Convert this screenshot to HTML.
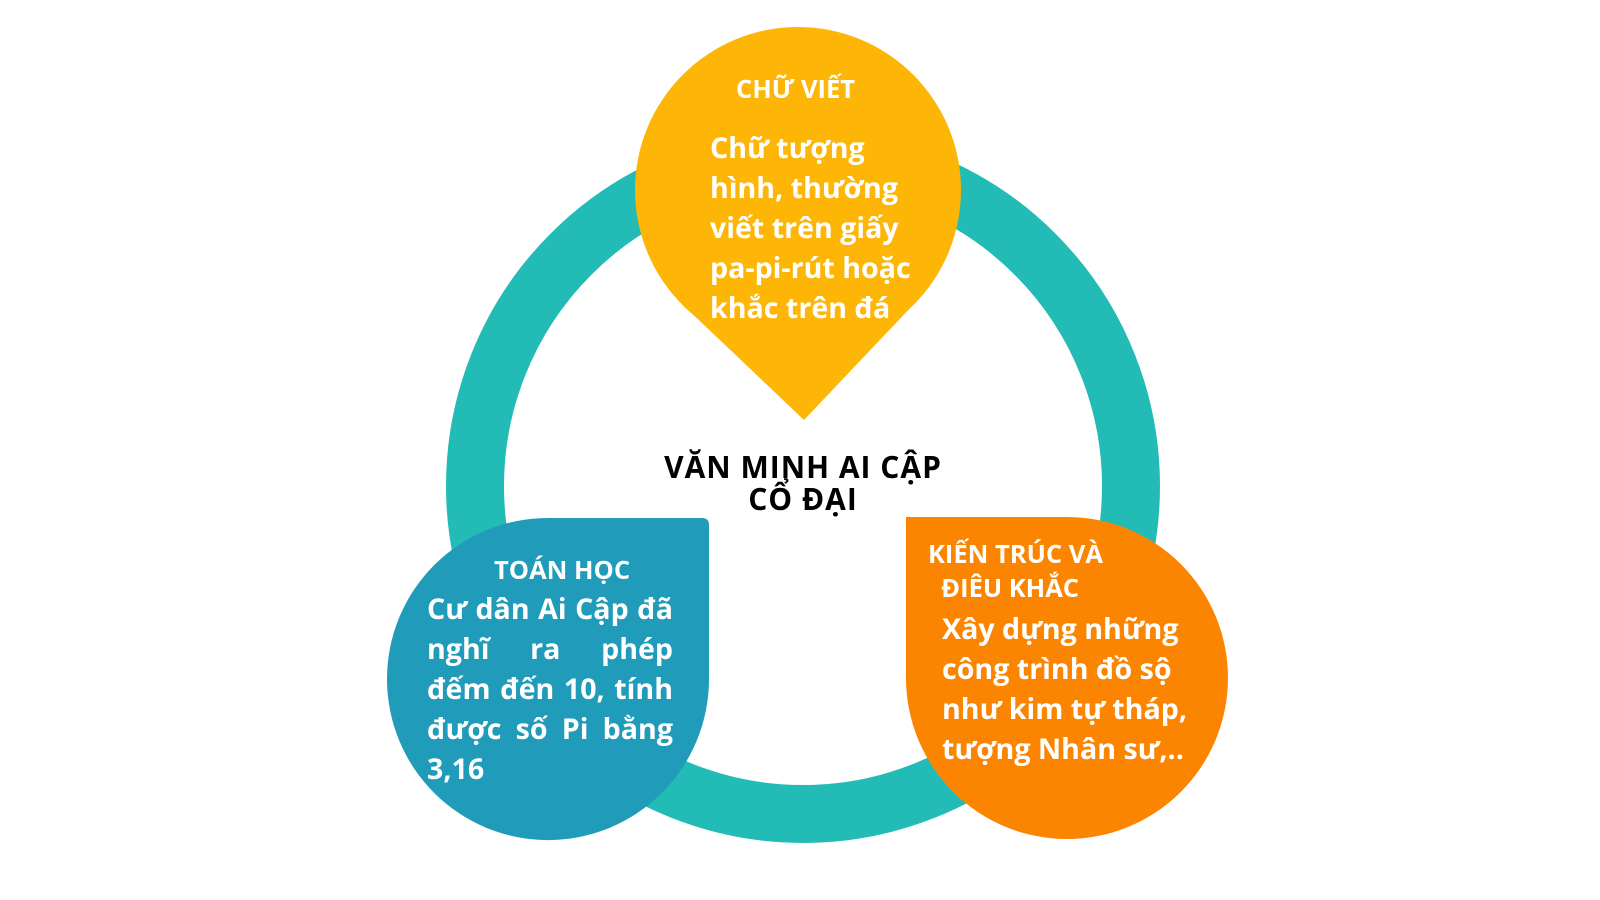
<!DOCTYPE html>
<html><head><meta charset="utf-8"><style>
body{margin:0;width:1600px;height:900px;background:#fff;position:relative;overflow:hidden;font-family:"Open Sans","Liberation Sans","DejaVu Sans",sans-serif;font-weight:bold}
.t{position:absolute;color:#fff;white-space:nowrap}
.b{font-size:28.6px;line-height:40px}
.h{font-size:25.5px;line-height:34px}
.j{text-align:justify;text-align-last:justify;height:40px}
</style></head><body>
<svg width="1600" height="900" style="position:absolute;left:0;top:0">
<circle cx="803" cy="486" r="328" fill="none" stroke="#22BBB6" stroke-width="58"/>
<circle cx="798" cy="190" r="163" fill="#FDB605"/>
<polygon points="683,305 804,420 913,305 798,190" fill="#FDB605"/>
<path d="M387,679 A161,161 0 1 0 709,679 L709,525 Q709,518 702,518 L548,518 A161,161 0 0 0 387,679 Z" fill="#219BBA"/>
<path d="M906,517 L1067,517 A161,161 0 1 1 906,678 Z" fill="#FB8500"/>
</svg>
<div class="t h" style="left:736px;top:72px">CHỮ VIẾT</div>
<div class="t b" style="left:710px;top:128px">Chữ tượng<br>hình, thường<br>viết trên giấy<br>pa-pi-rút hoặc<br>khắc trên đá</div>
<div class="t" style="left:560px;width:486px;text-align:center;color:#000;font-size:30px;letter-spacing:1px;line-height:32px;top:451px">VĂN MINH AI CẬP<br>CỔ ĐẠI</div>
<div class="t h" style="left:494px;top:553px">TOÁN HỌC</div>
<div class="t b" style="left:427px;top:589px;width:246px;white-space:normal">
<div class="j">Cư dân Ai Cập đã</div>
<div class="j">nghĩ ra phép</div>
<div class="j">đếm đến 10, tính</div>
<div class="j">được số Pi bằng</div>
<div>3,16</div>
</div>
<div class="t h" style="left:928px;top:537px">KIẾN TRÚC VÀ<br>&nbsp;&nbsp;ĐIÊU KHẮC</div>
<div class="t b" style="left:942px;top:609px">Xây dựng những<br>công trình đồ sộ<br>như kim tự tháp,<br>tượng Nhân sư,..</div>
</body></html>
